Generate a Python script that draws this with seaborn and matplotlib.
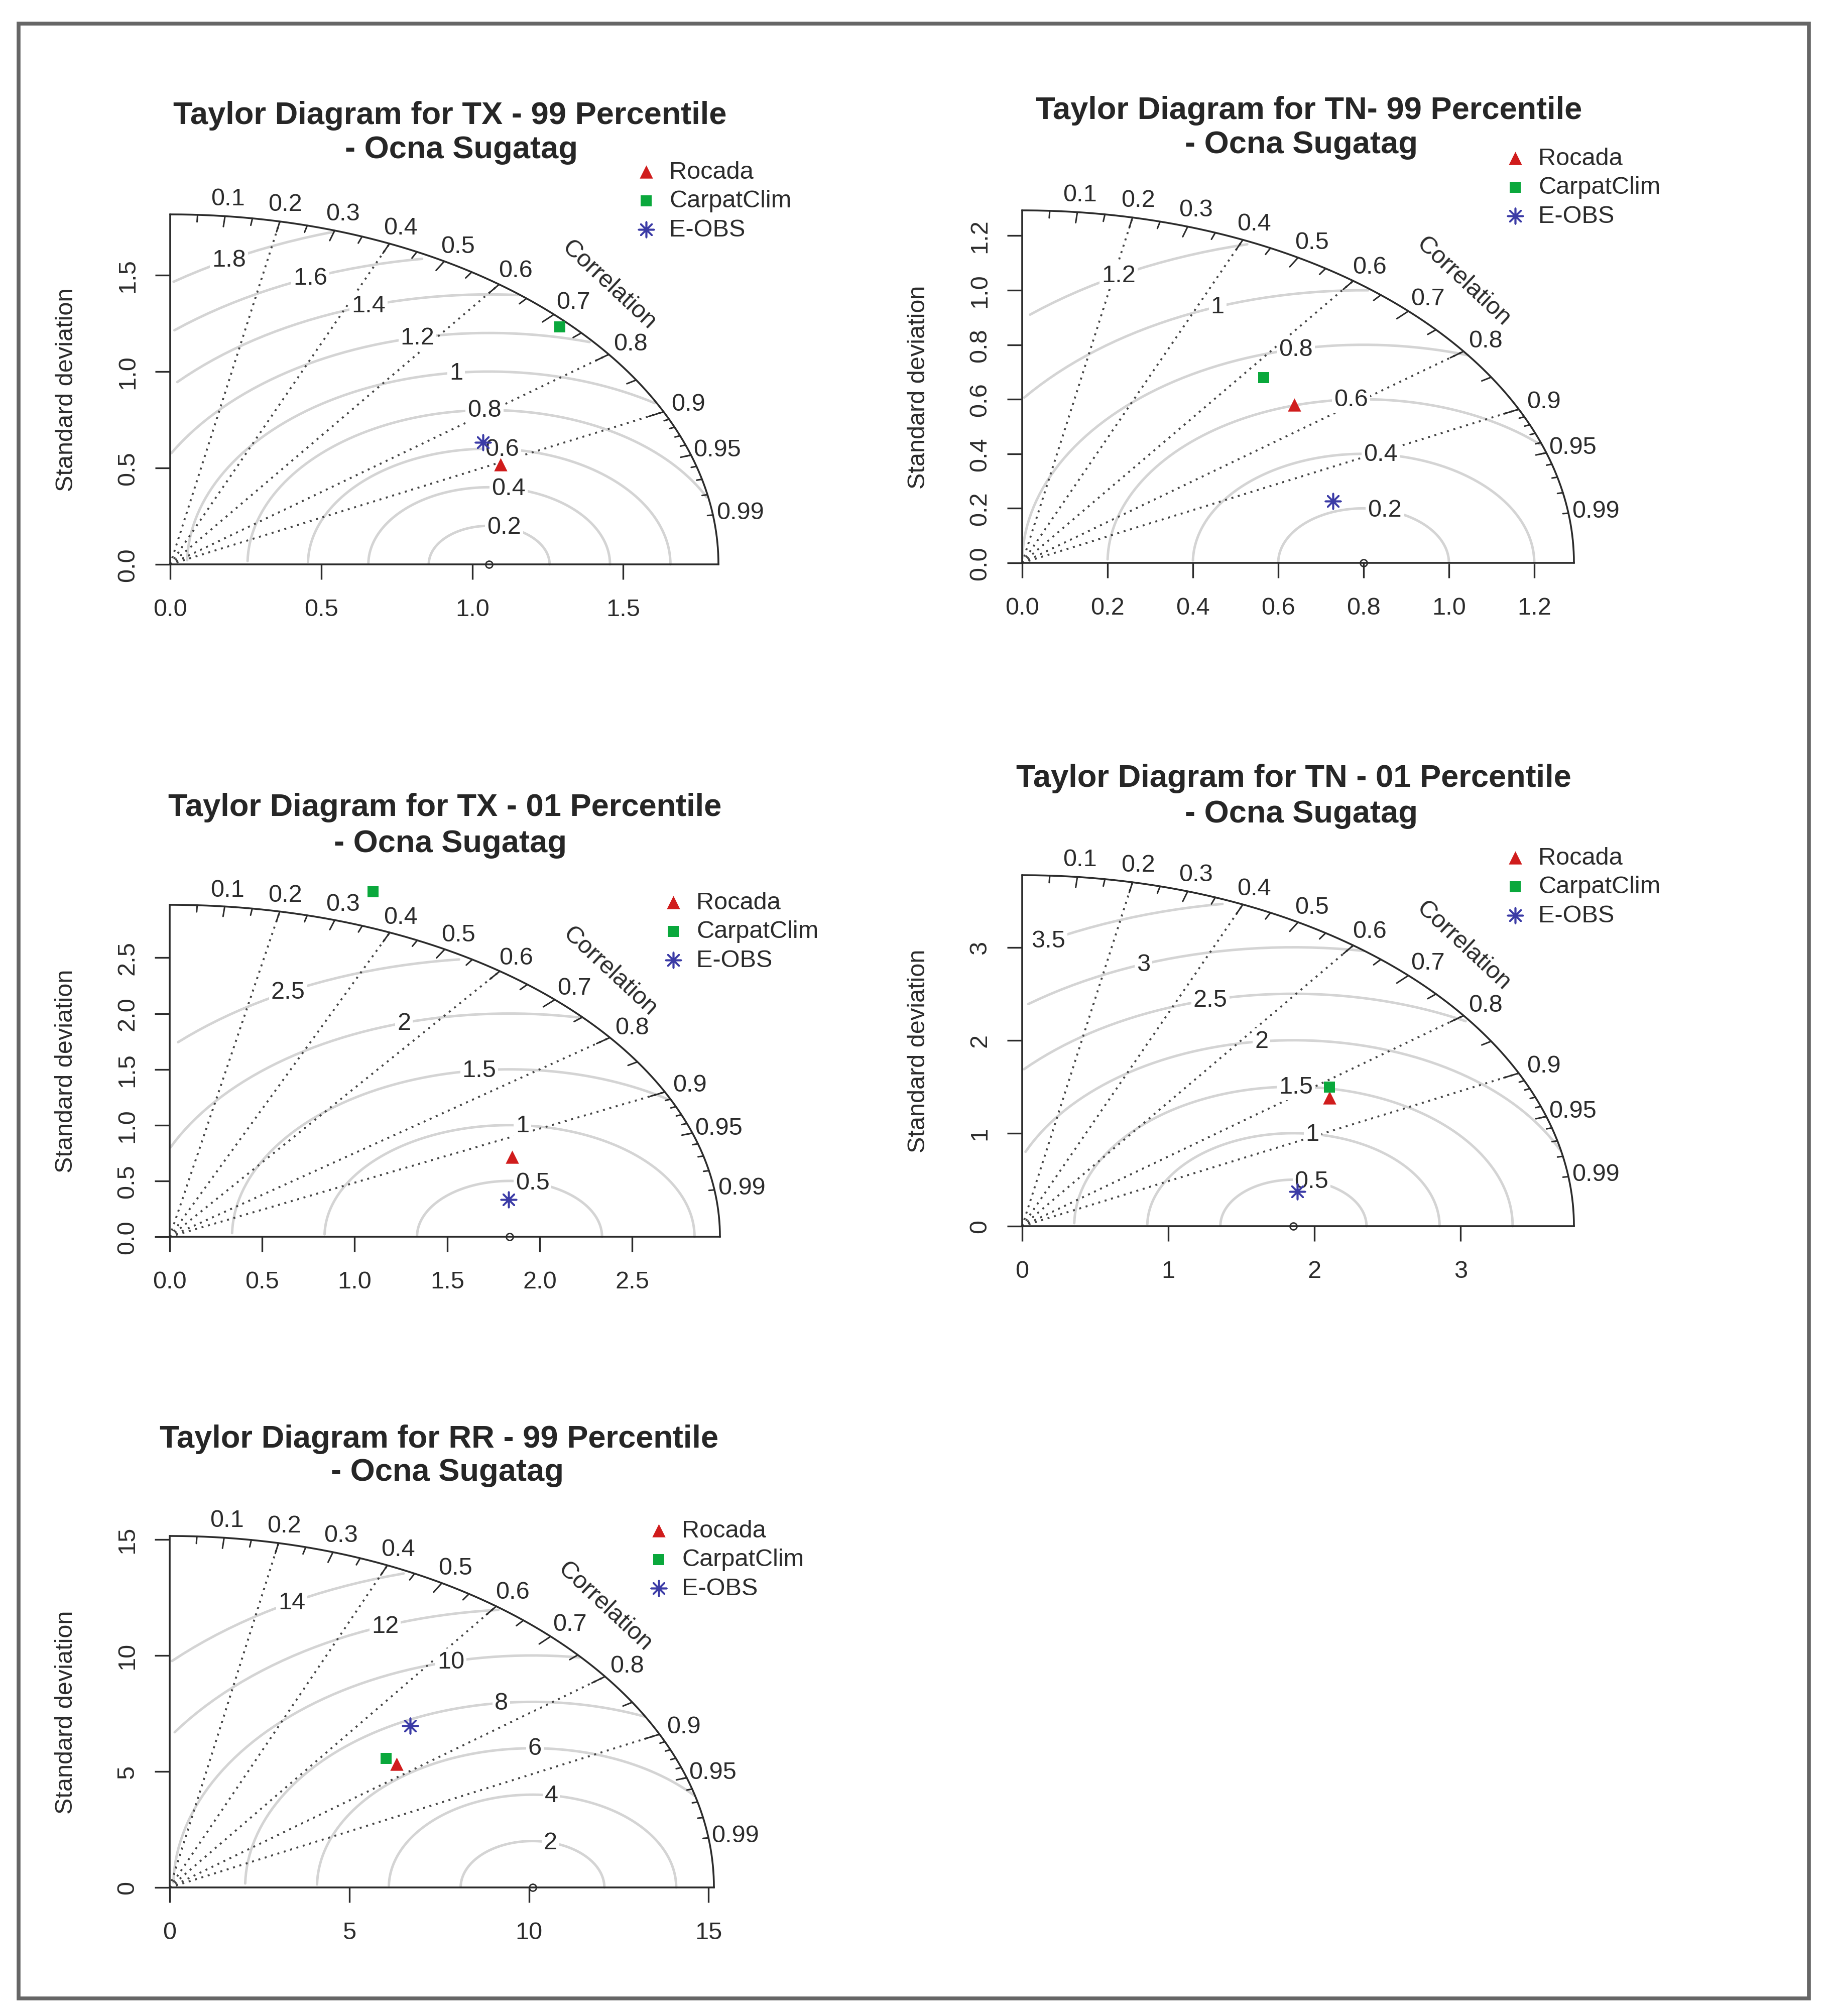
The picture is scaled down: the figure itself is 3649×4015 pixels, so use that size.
import numpy as np
import seaborn as sns
import matplotlib.pyplot as plt
from matplotlib.patches import Rectangle

# Values (station: Ocna Sugatag)
models = ['Rocada', 'CarpatClim', 'E-OBS']
titles = ['Taylor Diagram for TX - 99 Percentile',
          'Taylor Diagram for TN- 99 Percentile',
          'Taylor Diagram for TX - 01 Percentile',
          'Taylor Diagram for TN - 01 Percentile',
          'Taylor Diagram for RR - 99 Percentile']
subtitle = '- Ocna Sugatag'

# standard deviation of the observed series (reference point on the x axis)
ref_sd = [1.056, 0.80, 1.837, 1.856, 10.10]
# standard deviation and correlation of each gridded data set
rocada_sd = [1.21, 0.862, 1.983, 2.517, 8.26]
rocada_cor = [0.904, 0.740, 0.933, 0.835, 0.765]
carpat_sd = [1.784, 0.884, 3.280, 2.578, 8.195]
carpat_cor = [0.723, 0.640, 0.335, 0.815, 0.735]
eobs_sd = [1.213, 0.763, 1.862, 1.918, 9.668]
eobs_cor = [0.853, 0.955, 0.984, 0.981, 0.693]

# centred RMS difference contours drawn in each panel
rms_levels = [[0.2, 0.4, 0.6, 0.8, 1, 1.2, 1.4, 1.6, 1.8],
              [0.2, 0.4, 0.6, 0.8, 1, 1.2],
              [0.5, 1, 1.5, 2, 2.5],
              [0.5, 1, 1.5, 2, 2.5, 3, 3.5],
              [2, 4, 6, 8, 10, 12, 14]]
axis_ticks = [[0, 0.5, 1.0, 1.5],
              [0, 0.2, 0.4, 0.6, 0.8, 1.0, 1.2],
              [0, 0.5, 1.0, 1.5, 2.0, 2.5],
              [0, 1, 2, 3],
              [0, 5, 10, 15]]
tick_fmt = ['{:.1f}', '{:.1f}', '{:.1f}', '{:g}', '{:g}']
corr_labels = [0.1, 0.2, 0.3, 0.4, 0.5, 0.6, 0.7, 0.8, 0.9, 0.95, 0.99]
corr_lines = [0.2, 0.4, 0.6, 0.8, 0.9]

# layout in output pixels: diagram origin x, origin y, box width, box height
W_PX, H_PX = 3649, 4016
boxes = [(339, 1125, 1092, 697), (2036, 1122, 1099, 702), (338, 2464, 1096, 661),
         (2036, 2443, 1099, 699), (338, 3760, 1084, 700)]
title_pos = [((896, 231), (919, 298)), ((2607, 221), (2592, 288)),
             ((886, 1609), (897, 1681)), ((2577, 1550), (2592, 1622)),
             ((874, 2867), (891, 2933))]
legend_pos = [(1287, 333), (3018, 306), (1341, 1788), (3018, 1699), (1312, 3039)]

colors = {'Rocada': '#d01c1c', 'CarpatClim': '#0aa83c', 'E-OBS': '#3b3ba6'}
markers = {'Rocada': '^', 'CarpatClim': 's', 'E-OBS': (8, 2, 0)}
msize = {'Rocada': 360, 'CarpatClim': 270, 'E-OBS': 480}
ink = '#2b2b2b'

sns.set_style('white')
plt.rcParams['font.family'] = ['Liberation Sans', 'DejaVu Sans']


def fig_xy(px, py):
    return px / W_PX, 1 - py / H_PX


fig = plt.figure(figsize=(W_PX / 100, H_PX / 100), dpi=100)

for i in range(5):
    ox, oy, bw, bh = boxes[i]
    ax = fig.add_axes([ox / W_PX, 1 - oy / H_PX, bw / W_PX, bh / H_PX])
    ax.patch.set_alpha(0)
    maxsd = 1.5 * max(ref_sd[i], rocada_sd[i])
    ax.set_xlim(0, maxsd)
    ax.set_ylim(0, maxsd)

    # axes
    ax.spines[['top', 'right']].set_visible(False)
    for side in ['left', 'bottom']:
        ax.spines[side].set_color(ink)
        ax.spines[side].set_linewidth(2.6)
    labels = [tick_fmt[i].format(t) for t in axis_ticks[i]]
    ax.set_xticks(axis_ticks[i], labels)
    ax.set_yticks(axis_ticks[i], labels, rotation=90, va='center')
    ax.tick_params(bottom=True, left=True, direction='out', length=21.6, width=2.4,
                   color=ink, labelsize=35, labelcolor=ink, pad=23)
    ax.tick_params(axis='x', pad=27)
    ax.set_ylabel('Standard deviation', fontsize=35, color=ink)
    ax.yaxis.set_label_coords(-184 / bw, 0.5)

    # correlation rays
    for c in corr_lines:
        ax.plot([0, c * maxsd], [0, np.sqrt(1 - c ** 2) * maxsd], color='#444444',
                lw=2.8, ls=(0, (1.0, 2.4)), clip_on=False, zorder=2)

    # outer arc with ticks
    th = np.linspace(0, np.pi / 2, 400)
    ax.plot(maxsd * np.cos(th), maxsd * np.sin(th), color=ink, lw=2.6, clip_on=False, zorder=3)
    for cors, frac in [(np.arange(1, 10) / 10, 0.97),
                       (np.arange(0.05, 1.0, 0.1), 0.98),
                       (np.arange(91, 100) / 100, 0.99)]:
        for c in cors:
            s = np.sqrt(1 - c ** 2)
            ax.plot([c * maxsd, c * frac * maxsd], [s * maxsd, s * frac * maxsd],
                    color=ink, lw=2.2, clip_on=False, zorder=3)
    for c in corr_labels:
        ax.text(c * 1.05 * maxsd, np.sqrt(1 - c ** 2) * 1.05 * maxsd, f'{c:g}',
                fontsize=35, color=ink, ha='center', va='center')
    ax.text(0.8 * maxsd, 0.8 * maxsd, 'Correlation', rotation=-43, rotation_mode='anchor',
            fontsize=35, color=ink, ha='center', va='center')

    # RMS difference arcs centred on the reference
    ang = np.arange(0, np.pi, 0.03)
    levels = rms_levels[i]
    labelpos = np.linspace(45, 70, len(levels)).astype(int) - 1
    for g, lp in zip(levels, labelpos):
        xc = np.cos(ang) * g + ref_sd[i]
        yc = np.sin(ang) * g
        neg = np.where(xc < 0)[0]
        end = neg.min() if len(neg) else len(ang)
        out = np.where(xc ** 2 + yc ** 2 > maxsd ** 2)[0]
        start = out.max() + 1 if len(out) else 0
        ax.plot(xc[start:end], yc[start:end], color='#d4d4d4', lw=3.6, clip_on=False, zorder=1)
        if xc[lp] > 0:
            ax.text(xc[lp], yc[lp], f'{g:g}', fontsize=35, color=ink, ha='center', va='center',
                    zorder=4, bbox=dict(boxstyle='square,pad=0.08', fc='white', ec='none'))

    ax.plot(ref_sd[i], 0, 'o', mfc='none', mec=ink, ms=10, mew=2.0, clip_on=False, zorder=5)

    # data sets
    sds = [rocada_sd[i], carpat_sd[i], eobs_sd[i]]
    cors = [rocada_cor[i], carpat_cor[i], eobs_cor[i]]
    for m, sd, c in zip(models, sds, cors):
        sns.scatterplot(x=[sd * c], y=[sd * np.sqrt(1 - c ** 2)], marker=markers[m],
                        color=colors[m], s=msize[m], linewidth=2.6 if m == 'E-OBS' else 0,
                        label=m, ax=ax, clip_on=False, zorder=6)

    mx, my = legend_pos[i]
    ax.legend(loc='upper left', bbox_to_anchor=fig_xy(mx - 24, my - 12),
              bbox_transform=fig.transFigure, frameon=False, fontsize=35,
              handlelength=1.0, handletextpad=0.45, labelspacing=0.255,
              borderpad=0, borderaxespad=0, labelcolor=ink, scatterpoints=1)

    (t1, t2) = title_pos[i]
    fig.text(*fig_xy(*t1), titles[i], fontsize=45.5, fontweight='bold', ha='center', va='center')
    fig.text(*fig_xy(*t2), subtitle, fontsize=45.5, fontweight='bold', ha='center', va='center')

# outer frame
x0, y0 = fig_xy(37, 3981)
fig.add_artist(Rectangle((x0, y0), (3603 - 37) / W_PX, (3981 - 48) / H_PX,
                         transform=fig.transFigure, fill=False, lw=5.5, ec='#666666'))

fig.savefig('out.png', dpi=100)
